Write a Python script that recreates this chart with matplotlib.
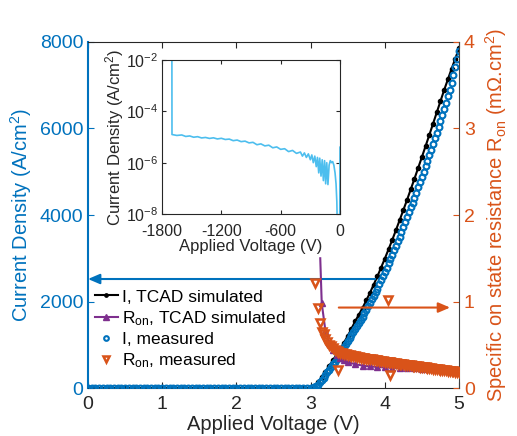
import matplotlib
matplotlib.use("Agg")
import matplotlib.pyplot as plt
from matplotlib.ticker import FixedLocator, NullLocator, LogFormatterSciNotation

plt.rcParams['font.family'] = ['Liberation Sans', 'DejaVu Sans']
plt.rcParams['mathtext.fontset'] = 'custom'
plt.rcParams['mathtext.rm'] = 'Liberation Sans'
plt.rcParams['mathtext.it'] = 'Liberation Sans:italic'
plt.rcParams['mathtext.default'] = 'regular'

BLUE = '#0072BD'
ORANGE = '#D95319'
PURPLE = '#7E2F8E'
LIGHTBLUE = '#4DBEEE'
DARK = '#262626'

# ---------------- data ----------------
# TCAD simulated current density (A/cm^2)
tcad_v = [0.0, 0.5, 1.0, 1.5, 2.0, 2.5, 2.9, 3.0, 3.05, 3.1, 3.15, 3.2, 3.25, 3.3, 3.35,
          3.4, 3.45, 3.5, 3.55, 3.6, 3.65, 3.7, 3.75, 3.8, 3.85, 3.9, 3.95, 4.0, 4.05,
          4.1, 4.15, 4.2, 4.25, 4.3, 4.35, 4.4, 4.45, 4.5, 4.55, 4.6, 4.65, 4.7, 4.75,
          4.8, 4.85, 4.9, 4.95, 5.0]
tcad_i = [0, 0, 0, 0, 0, 0, 0, 0, 30, 130, 250, 380, 510, 640, 770,
          900, 1050, 1200, 1370, 1540, 1695, 1850, 2025, 2200, 2390, 2580, 2785, 2990, 3205,
          3420, 3650, 3880, 4115, 4350, 4595, 4840, 5090, 5340, 5595, 5850, 6110, 6370, 6630,
          6890, 7135, 7380, 7615, 7850]

# TCAD simulated specific on-resistance (mOhm.cm^2)
rtcad_v = [3.13, 3.15, 3.2, 3.25, 3.3, 3.35, 3.4, 3.45, 3.5, 3.6, 3.7, 3.8, 3.9, 4.0,
           4.1, 4.2, 4.3, 4.4, 4.5, 4.6, 4.7, 4.8, 4.9, 5.0]
rtcad_r = [1.5, 0.98, 0.66, 0.52, 0.44, 0.38, 0.345, 0.32, 0.30, 0.275, 0.26, 0.25, 0.243, 0.238,
           0.234, 0.231, 0.228, 0.226, 0.224, 0.222, 0.220, 0.219, 0.218, 0.217]

# measured current density (A/cm^2)
meas_v = [0.0, 0.05, 0.1, 0.15, 0.2, 0.25, 0.3, 0.35, 0.4, 0.45, 0.5, 0.55, 0.6, 0.65, 0.7,
          0.75, 0.8, 0.85, 0.9, 0.95, 1.0, 1.05, 1.1, 1.15, 1.2, 1.25, 1.3, 1.35, 1.4, 1.45,
          1.5, 1.55, 1.6, 1.65, 1.7, 1.75, 1.8, 1.85, 1.9, 1.95, 2.0, 2.05, 2.1, 2.15, 2.2,
          2.25, 2.3, 2.35, 2.4, 2.45, 2.5, 2.55, 2.6, 2.65, 2.7, 2.75, 2.8, 2.85, 2.9, 2.95,
          3.0, 3.025, 3.05, 3.075, 3.1, 3.125, 3.15, 3.175, 3.2, 3.225, 3.25, 3.275, 3.3,
          3.325, 3.35, 3.375, 3.4, 3.425, 3.45, 3.475, 3.5, 3.525, 3.55, 3.575, 3.6, 3.625,
          3.65, 3.675, 3.7, 3.725, 3.75, 3.775, 3.8, 3.825, 3.85, 3.875, 3.9, 3.925, 3.95,
          3.975, 4.0, 4.025, 4.05, 4.075, 4.1, 4.125, 4.15, 4.175, 4.2, 4.225, 4.25, 4.275,
          4.3, 4.325, 4.35, 4.375, 4.4, 4.425, 4.45, 4.475, 4.5, 4.525, 4.55, 4.575, 4.6,
          4.625, 4.65, 4.675, 4.7, 4.725, 4.75, 4.775, 4.8, 4.825, 4.85, 4.875, 4.9, 4.925,
          4.95, 4.975, 5.0]
meas_i = [0, 0, 0, 0, 0, 0, 0, 0, 0, 0, 0, 0, 0, 0, 0,
          0, 0, 0, 0, 0, 0, 0, 0, 0, 0, 0, 0, 0, 0, 0,
          0, 0, 0, 0, 0, 0, 0, 0, 0, 0, 0, 0, 0, 0, 0,
          0, 0, 0, 0, 0, 0, 0, 0, 0, 0, 0, 0, 0, 0, 0,
          0, 5, 20, 45, 80, 130, 185, 240, 300, 362, 425, 487, 550,
          612, 675, 737, 800, 870, 940, 1010, 1080, 1150, 1220, 1290, 1360, 1432,
          1505, 1577, 1650, 1730, 1810, 1890, 1970, 2052, 2135, 2217, 2300, 2395, 2490,
          2585, 2680, 2780, 2880, 2980, 3080, 3185, 3290, 3395, 3500, 3612, 3725, 3837,
          3950, 4062, 4175, 4287, 4400, 4520, 4640, 4760, 4880, 5005, 5130, 5255, 5380,
          5510, 5640, 5770, 5900, 6037, 6175, 6312, 6450, 6600, 6750, 6900, 7050, 7240,
          7420, 7610, 7800]

# measured specific on-resistance (mOhm.cm^2)
rmeas_v = [3.06, 3.10, 3.13, 3.15, 3.175, 3.2, 3.225, 3.25, 3.275, 3.3, 3.325, 3.35, 3.375,
           3.4, 3.425, 3.45, 3.475, 3.5, 3.525, 3.55, 3.575, 3.6, 3.625, 3.65, 3.675, 3.7,
           3.725, 3.75, 3.775, 3.8, 3.825, 3.85, 3.875, 3.9, 3.925, 3.95, 3.975, 4.0, 4.025,
           4.05, 4.075, 4.1, 4.125, 4.15, 4.175, 4.2, 4.225, 4.25, 4.275, 4.3, 4.325, 4.35,
           4.375, 4.4, 4.425, 4.45, 4.475, 4.5, 4.525, 4.55, 4.575, 4.6, 4.625, 4.65, 4.675,
           4.7, 4.725, 4.75, 4.775, 4.8, 4.825, 4.85, 4.875, 4.9, 4.925, 4.95, 4.975, 5.0,
           3.37, 4.04, 4.07]
rmeas_r = [1.21, 0.92, 0.75, 0.65, 0.62, 0.57, 0.53, 0.50, 0.48, 0.46, 0.44, 0.43, 0.42,
           0.41, 0.40, 0.395, 0.39, 0.385, 0.38, 0.375, 0.37, 0.365, 0.36, 0.355, 0.35, 0.347,
           0.343, 0.34, 0.336, 0.333, 0.33, 0.326, 0.322, 0.318, 0.315, 0.312, 0.308, 0.305, 0.302,
           0.298, 0.295, 0.292, 0.288, 0.285, 0.282, 0.279, 0.276, 0.273, 0.27, 0.267, 0.264, 0.261,
           0.258, 0.255, 0.252, 0.249, 0.246, 0.243, 0.24, 0.237, 0.234, 0.231, 0.228, 0.225, 0.222,
           0.219, 0.216, 0.213, 0.21, 0.207, 0.204, 0.201, 0.198, 0.195, 0.192, 0.189, 0.186, 0.183,
           0.21, 1.02, 0.15]

# inset: reverse characteristics
inset_v = [-1700, -1699, -1650, -1600, -1560, -1520, -1480, -1440, -1400, -1360, -1320, -1280,
           -1240, -1200, -1160, -1120, -1080, -1040, -1000, -960, -920, -880, -840, -800, -760,
           -720, -680, -640, -600, -560, -520, -480, -440, -400, -380, -360, -340, -320, -300,
           -285, -270, -255, -240, -228, -215, -205, -192, -180, -168, -156, -145, -134, -122,
           -110, -98, -86, -74, -62, -50, -40, -32, -25, -3, 0]
inset_j = [2e-2, 1.25e-5, 1.15e-5, 1.2e-5, 1.05e-5, 1.1e-5, 9.8e-6, 1.03e-5, 9.2e-6, 9.6e-6, 8.8e-6, 9.3e-6,
           8.4e-6, 8.9e-6, 8.0e-6, 8.3e-6, 7.2e-6, 7.6e-6, 6.6e-6, 6.9e-6, 5.9e-6, 6.2e-6, 5.0e-6, 5.4e-6, 4.5e-6,
           4.8e-6, 3.8e-6, 4.1e-6, 3.3e-6, 3.5e-6, 2.7e-6, 3.0e-6, 2.3e-6, 2.6e-6, 1.8e-6, 2.4e-6, 1.6e-6, 2.2e-6, 1.3e-6,
           2.0e-6, 1.0e-6, 1.8e-6, 7e-7, 1.6e-6, 4e-7, 1.5e-6, 3e-7, 1.3e-6, 2e-7, 1.2e-6, 1.5e-7, 1.0e-6, 1.4e-7,
           8e-7, 1.2e-6, 1.0e-6, 1.1e-6, 8e-7, 4e-7, 1.5e-7, 3e-8, 1e-9, 1e-9, 4e-6]

main_xticks = [0, 1, 2, 3, 4, 5]
left_yticks = [0, 2000, 4000, 6000, 8000]
right_yticks = [0, 1, 2, 3, 4]
inset_xticks = [-1800, -1200, -600, 0]
inset_yticks = [1e-8, 1e-6, 1e-4, 1e-2]

# ---------------- figure ----------------
fig = plt.figure(figsize=(5.17, 4.36), dpi=100)
ax = fig.add_axes([88/517, 48/436, 371/517, 346/436])
ax2 = ax.twinx()

l1, = ax.plot(tcad_v, tcad_i, '-', color='black', lw=1.5, marker='.', ms=6, zorder=2)
l3, = ax.plot(meas_v, meas_i, linestyle='none', marker='o', ms=4.2, mfc='none', mec=BLUE, mew=1.5, zorder=3)
ax.annotate('', xy=(0.0, 2520), xytext=(3.87, 2520),
            arrowprops=dict(arrowstyle='-|>,head_length=0.7,head_width=0.3', color=BLUE, lw=1.5,
                            shrinkA=0, shrinkB=0), zorder=4)

l2, = ax2.plot(rtcad_v, rtcad_r, '-', color=PURPLE, lw=1.5, marker='^', ms=5, mfc=PURPLE,
               mec=PURPLE, markevery=list(range(1, len(rtcad_v))), zorder=2)
l4, = ax2.plot(rmeas_v, rmeas_r, linestyle='none', marker='v', ms=6, mfc='none', mec=ORANGE, mew=1.8, zorder=3)
ax2.annotate('', xy=(4.88, 0.93), xytext=(3.38, 0.93),
             arrowprops=dict(arrowstyle='-|>,head_length=0.7,head_width=0.3', color=ORANGE, lw=1.5,
                             shrinkA=0, shrinkB=0))

ax.set_xlim(0, 5)
ax.set_ylim(0, 8000)
ax2.set_ylim(0, 4)
ax.set_xticks(main_xticks)
ax.set_yticks(left_yticks)
ax2.set_yticks(right_yticks)

ax.tick_params(axis='x', direction='in', top=True, labelsize=14, colors=DARK, length=4, pad=6)
ax.tick_params(axis='y', direction='in', labelsize=14, colors=BLUE, length=4)
ax2.tick_params(axis='y', direction='in', labelsize=14, colors=ORANGE, length=4)
ax.spines['left'].set_color(BLUE)
ax.spines['left'].set_linewidth(1.5)
ax2.spines['left'].set_visible(False)
for sp in ['top', 'bottom']:
    ax.spines[sp].set_color(DARK)
    ax2.spines[sp].set_visible(False)
ax2.spines['right'].set_color('#404040')
ax.spines['right'].set_visible(False)

ax.set_xlabel('Applied Voltage (V)', fontsize=14.5, color=DARK, labelpad=1)
ax.set_ylabel('Current Density (A/cm$^2$)', fontsize=14.5, color=BLUE, labelpad=4)
ax2.set_ylabel('Specific on state resistance R$_{on}$ (m\u03a9.cm$^2$)', fontsize=14.5,
               color=ORANGE, labelpad=6)

leg = ax2.legend([l1, l2, l3, l4],
                 ['I, TCAD simulated', 'R$_{on}$, TCAD simulated', 'I, measured', 'R$_{on}$, measured'],
                 loc='upper left', bbox_to_anchor=(0.0, 0.305), frameon=False, fontsize=12.5,
                 handlelength=1.3, handletextpad=0.25, labelspacing=0.25, borderaxespad=0,
                 markerscale=0.8)

# inset
axi = fig.add_axes([162/517, (436-214)/436, 178/517, 154/436])
axi.set_zorder(10)
axi.set_facecolor('white')
axi.plot(inset_v, inset_j, color=LIGHTBLUE, lw=1.2)
axi.set_yscale('log')
axi.set_xlim(-1800, 0)
axi.set_ylim(1e-8, 1e-2)
axi.yaxis.set_major_locator(FixedLocator(inset_yticks))
axi.yaxis.set_major_formatter(LogFormatterSciNotation())
axi.yaxis.set_minor_locator(NullLocator())
axi.set_xticks(inset_xticks)
axi.set_xticklabels(['-1800', '-1200', '-600', '0'])
axi.tick_params(direction='in', top=True, right=True, labelsize=11.5, colors=DARK, length=3, pad=3)
axi.tick_params(axis='x', pad=7)
for sp in axi.spines.values():
    sp.set_color(DARK)
axi.set_xlabel('Applied Voltage (V)', fontsize=12, color=DARK, labelpad=0)
axi.set_ylabel('Current Density (A/cm$^2$)', fontsize=12, color=DARK, labelpad=0)

fig.savefig('out.png', dpi=100)
